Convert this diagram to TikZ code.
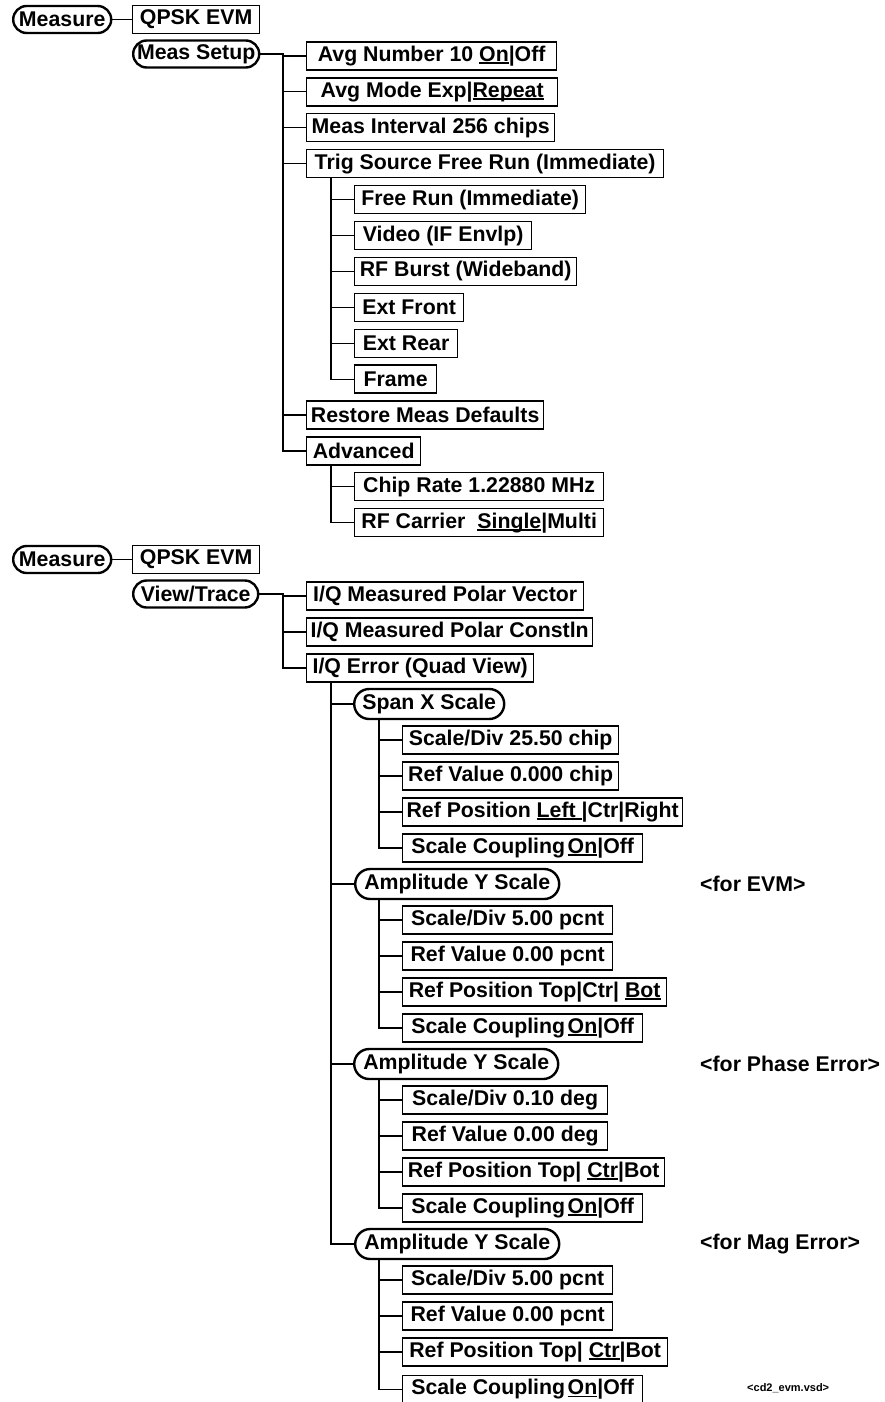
\documentclass[tikz,border=0pt]{standalone}
\usepackage{fontspec}
\setmainfont{Liberation Sans}
\newsavebox{\myulbox}
\newcommand{\myul}[1]{\sbox{\myulbox}{#1}\rlap{\rule[-2.6pt]{\wd\myulbox}{1.5pt}}\usebox{\myulbox}}
\begin{document}
\begin{tikzpicture}[x=1pt,y=-1pt,
  box/.style={draw, line width=1.3pt, minimum height=28pt, inner xsep=0pt, inner ysep=0pt,
    anchor=west, font=\fontsize{21.3}{24}\selectfont\bfseries},
  menu/.style={draw, line width=2.4pt, rounded corners=13.5pt, minimum height=27pt, inner xsep=0pt,
    inner ysep=0pt, anchor=west, font=\fontsize{21.3}{24}\selectfont\bfseries},
  menub/.style={menu, rounded corners=15pt, minimum height=30pt},
  link/.style={line width=1.2pt},
  note/.style={anchor=west, inner sep=0pt, font=\fontsize{21.3}{24}\selectfont\bfseries},
  tag/.style={anchor=west, inner sep=0pt, font=\fontsize{11}{13}\selectfont\bfseries}]
\useasboundingbox (0,0) rectangle (884,1402);
\coordinate (v1) at (283,0);
\coordinate (v2) at (331,0);
\coordinate (v3) at (379,0);

% ---------------- top section ----------------
\node[menu, minimum width=98pt] (m1) at (12,19.5) {Measure};
\node[box, minimum width=127pt] (q1) at (132,19.5) {QPSK EVM};
\node[menu, minimum width=126pt] (ms) at (132,54) {Meas Setup};

\node[box, minimum width=250pt] (avg) at (306,56) {Avg Number 10 \myul{On}|Off};
\node[box, minimum width=251pt] (mode) at (306,91.9) {Avg Mode Exp|\myul{Repeat}};
\node[box, minimum width=248pt] (intv) at (306,127.8) {Meas Interval 256 chips};
\node[box, minimum width=357pt] (trig) at (306,163.7) {Trig Source Free Run (Immediate)};
\node[box, minimum width=231pt] (fr) at (354,199.6) {Free Run (Immediate)};
\node[box, minimum width=177pt] (vid) at (354,235.5) {Video (IF Envlp)};
\node[box, minimum width=222pt] (rfb) at (354,271.4) {RF Burst (Wideband)};
\node[box, minimum width=109pt] (extf) at (354,307.3) {Ext Front};
\node[box, minimum width=103pt] (extr) at (354,343.2) {Ext Rear};
\node[box, minimum width=82pt] (frame) at (354,379.1) {Frame};
\node[box, minimum width=237pt] (rest) at (306,415) {Restore Meas Defaults};
\node[box, minimum width=114pt] (adv) at (306,450.9) {Advanced};
\node[box, minimum width=249pt] (chip) at (354,486.8) {Chip Rate 1.22880 MHz};
\node[box, minimum width=249pt] (rfc) at (354,522.7) {RF Carrier\ \ \myul{Single}|Multi};

\draw[link] (m1.east) -- (q1.west);
\draw[link] (ms.east) -- (ms.east -| v1) |- (adv.west);
\foreach \c in {avg,mode,intv,trig,rest} \draw[link] (\c.west -| v1) -- (\c.west);
\draw[link] (trig.south -| v2) |- (frame.west);
\foreach \c in {fr,vid,rfb,extf,extr} \draw[link] (\c.west -| v2) -- (\c.west);
\draw[link] (adv.south -| v2) |- (rfc.west);
\draw[link] (chip.west -| v2) -- (chip.west);

% ---------------- bottom section ----------------
\node[menu, minimum width=98pt] (m2) at (12,559.5) {Measure};
\node[box, minimum width=127pt] (q2) at (132,559.5) {QPSK EVM};
\node[menu, minimum width=125pt] (vt) at (132,594) {View/Trace};

\node[box, minimum width=277pt] (iqv) at (306,596) {I/Q Measured Polar Vector};
\node[box, minimum width=286pt] (iqc) at (306,632) {I/Q Measured Polar Constln};
\node[box, minimum width=227pt] (iqe) at (306,668) {I/Q Error (Quad View)};

\node[menub, minimum width=150pt] (sx) at (353,704) {Span X Scale};
\node[box, minimum width=216pt] (s1) at (402,740) {Scale/Div 25.50 chip};
\node[box, minimum width=216pt] (s2) at (402,776) {Ref Value 0.000 chip};
\node[box, minimum width=280pt] (s3) at (402,812) {Ref Position \myul{Left }|Ctr|Right};
\node[box, minimum width=240pt] (s4) at (402,848) {Scale Coupling\hspace{0.12em}\myul{On}|Off};

\node[menub, minimum width=204pt] (a1) at (354,884) {Amplitude Y Scale};
\node[note] (n1) at (700,884) {<for EVM>};
\node[box, minimum width=210pt] (e1) at (402,920) {Scale/Div 5.00 pcnt};
\node[box, minimum width=210pt] (e2) at (402,956) {Ref Value 0.00 pcnt};
\node[box, minimum width=264pt] (e3) at (402,992) {Ref Position Top|Ctr| \myul{Bot}};
\node[box, minimum width=240pt] (e4) at (402,1028) {Scale Coupling\hspace{0.12em}\myul{On}|Off};

\node[menub, minimum width=204pt] (a2) at (353,1064) {Amplitude Y Scale};
\node[note] (n2) at (700,1064) {<for Phase Error>};
\node[box, minimum width=205pt] (p1) at (402,1100) {Scale/Div 0.10 deg};
\node[box, minimum width=205pt] (p2) at (402,1136) {Ref Value 0.00 deg};
\node[box, minimum width=262pt] (p3) at (402,1172) {Ref Position Top| \myul{Ctr}|Bot};
\node[box, minimum width=240pt] (p4) at (402,1208) {Scale Coupling\hspace{0.12em}\myul{On}|Off};

\node[menub, minimum width=204pt] (a3) at (354,1244) {Amplitude Y Scale};
\node[note] (n3) at (700,1244) {<for Mag Error>};
\node[box, minimum width=210pt] (g1) at (402,1280) {Scale/Div 5.00 pcnt};
\node[box, minimum width=210pt] (g2) at (402,1316) {Ref Value 0.00 pcnt};
\node[box, minimum width=265pt] (g3) at (402,1352) {Ref Position Top| \myul{Ctr}|Bot};
\node[box, minimum width=240pt] (g4) at (402,1389.5) {Scale Coupling\hspace{0.12em}\myul{On}|Off};

\node[tag] (fn) at (747,1388) {<cd2\_evm.vsd>};

\draw[link] (m2.east) -- (q2.west);
\draw[link] (vt.east) -- (vt.east -| v1) |- (iqe.west);
\foreach \c in {iqv,iqc} \draw[link] (\c.west -| v1) -- (\c.west);
\draw[link] (iqe.south -| v2) |- (a3.west);
\foreach \c in {sx,a1,a2} \draw[link] (\c.west -| v2) -- (\c.west);
\draw[link] (sx.south -| v3) |- (s4.west);
\foreach \c in {s1,s2,s3} \draw[link] (\c.west -| v3) -- (\c.west);
\draw[link] (a1.south -| v3) |- (e4.west);
\foreach \c in {e1,e2,e3} \draw[link] (\c.west -| v3) -- (\c.west);
\draw[link] (a2.south -| v3) |- (p4.west);
\foreach \c in {p1,p2,p3} \draw[link] (\c.west -| v3) -- (\c.west);
\draw[link] (a3.south -| v3) |- (g4.west);
\foreach \c in {g1,g2,g3} \draw[link] (\c.west -| v3) -- (\c.west);
\end{tikzpicture}
\end{document}
